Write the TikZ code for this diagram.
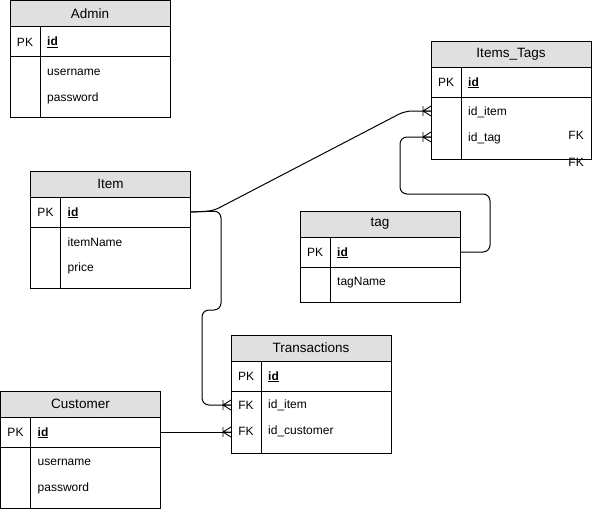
\documentclass[tikz,border=0pt]{standalone}
\usepackage{fontspec}
\setmainfont{Liberation Sans}
\definecolor{hdrgray}{RGB}{224,224,224}
\tikzset{
  tbl/.style={draw=black, line width=1pt},
  hdrbox/.style={tbl, fill=hdrgray, minimum width=160pt, minimum height=26pt,
    inner sep=0pt, outer sep=0pt, font=\fontsize{13.5}{15}\selectfont},
  rowbox/.style={tbl, minimum width=160pt, inner sep=0pt, outer sep=0pt},
  keytxt/.style={inner sep=0pt, font=\fontsize{12}{14}\selectfont},
  fldtxt/.style={inner sep=0pt, anchor=west, font=\fontsize{12}{14}\selectfont},
  link/.style={draw=black, line width=1pt, rounded corners=7pt},
  pics/crowfoot/.style={code={
    \draw[line width=0.9pt] (-8,0) -- (0,-5) (-8,0) -- (0,5) (-8,0) -- (0,0)
      (-8,-5) -- (-8,5);}}
}
% one entity: name, x, y, title, body height
\newcommand{\erentity}[5]{%
  \node[hdrbox, anchor=north west] (#1) at (#2,#3) {#4};
  \node[rowbox, anchor=north west, minimum height=30pt] (#1-pk) at (#1.south west) {};
  \node[rowbox, anchor=north west, minimum height=#5] (#1-body) at (#1-pk.south west) {};
  \draw[tbl] ([xshift=30pt]#1-pk.north west) -- ([xshift=30pt]#1-body.south west);
  \node[keytxt] (#1-pklabel) at ([xshift=15pt,yshift=-0.8pt]#1-pk.west) {PK};
  \node[fldtxt] (#1-id) at ([xshift=37pt,yshift=-0.8pt]#1-pk.west) {\underline{\textbf{id}}};
}
% a field line: entity name, field label, offset below body top, text
\newcommand{\erfield}[4]{%
  \node[fldtxt] (#1-#2) at ([xshift=37pt,yshift=-#3pt]#1-body.north west) {#4};
}
\begin{document}
\begin{tikzpicture}[x=1pt,y=-1pt]
\useasboundingbox (0,0) rectangle (593,509);

% entities
\erentity{admin}{10}{0.5}{Admin}{61pt}
\erfield{admin}{f1}{15.5}{username}
\erfield{admin}{f2}{41.5}{password}

\erentity{itemstags}{431}{41}{Items\_Tags}{62pt}
\erfield{itemstags}{f1}{15.5}{id\_item}
\erfield{itemstags}{f2}{41.5}{id\_tag}
\node[keytxt, anchor=east] (itemstags-fk1) at (584,135) {FK};
\node[keytxt, anchor=east] (itemstags-fk2) at (584,162) {FK};

\erentity{item}{30.5}{171}{Item}{61pt}
\erfield{item}{f1}{15}{itemName}
\erfield{item}{f2}{41}{price}

\erentity{tag}{300}{211}{tag}{35pt}
\erfield{tag}{f1}{16}{tagName}

\erentity{trans}{231}{335}{Transactions}{62pt}
\erfield{trans}{f1}{14.5}{id\_item}
\erfield{trans}{f2}{40.5}{id\_customer}
\node[keytxt] (trans-fk1) at ([xshift=15pt,yshift=-14.5pt]trans-body.north west) {FK};
\node[keytxt] (trans-fk2) at ([xshift=15pt,yshift=-40.5pt]trans-body.north west) {FK};

\erentity{customer}{0.5}{391}{Customer}{61pt}
\erfield{customer}{f1}{15}{username}
\erfield{customer}{f2}{41}{password}

% connector end points on the entity borders
\coordinate (it-in1) at ([yshift=-14pt]itemstags-body.north west);
\coordinate (it-in2) at ([yshift=-40pt]itemstags-body.north west);
\coordinate (tr-in1) at ([yshift=-14pt]trans-body.north west);
\coordinate (tr-in2) at (trans-body.west |- customer-pk.east);

% relationships
\draw[link] (item-pk.east) -- (213,211) -- (405,111) -- (it-in1);
\draw[link] (item-pk.east) -- (221,211) -- (221,310) -- (202,310) -- (202,405) -- (tr-in1);
\draw[link] (tag-pk.east) -- (490,252) -- (490,194) -- (400,194) -- (400,137) -- (it-in2);
\draw[link] (customer-pk.east) -- (tr-in2);

\pic at (it-in1) {crowfoot};
\pic at (it-in2) {crowfoot};
\pic at (tr-in1) {crowfoot};
\pic at (tr-in2) {crowfoot};
\end{tikzpicture}
\end{document}
